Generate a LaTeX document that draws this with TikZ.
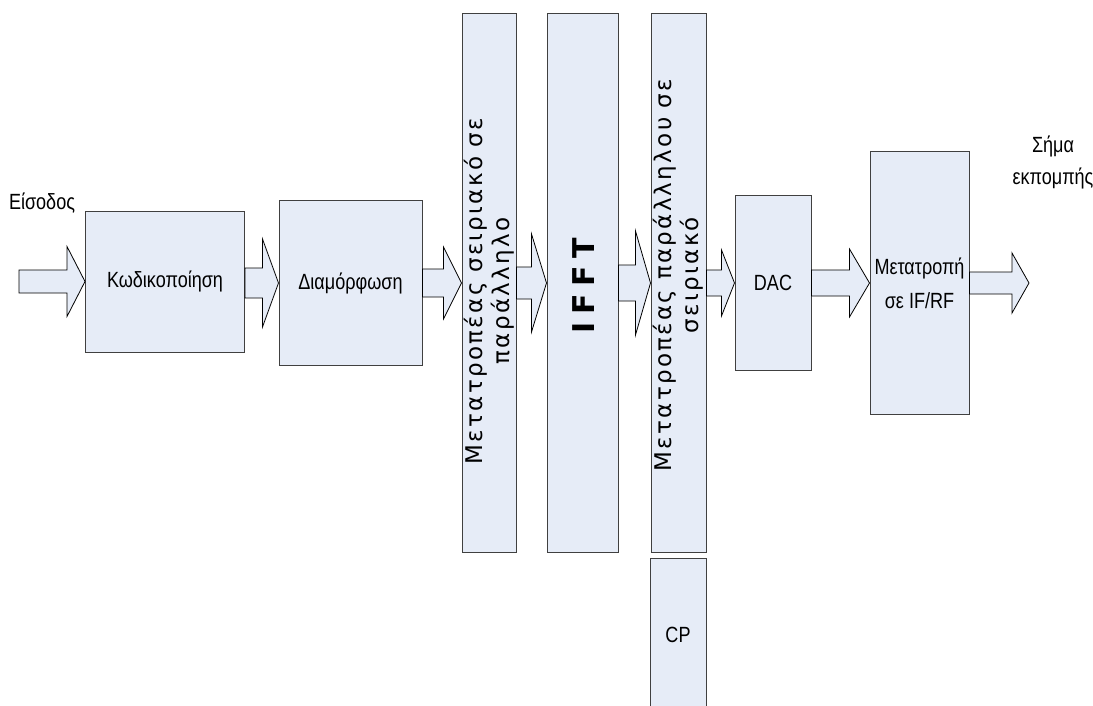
\documentclass[tikz,border=0pt]{standalone}
\usepackage{fontspec}
\usepackage{graphicx}
\setmainfont{Liberation Sans}[FakeStretch=0.82]
\newfontfamily\vfont{DejaVu Sans}[LetterSpace=10]
\newfontfamily\ifftfont{DejaVu Sans}[LetterSpace=25]
\usetikzlibrary{calc}
\definecolor{boxfill}{RGB}{230,236,247}
\definecolor{boxline}{RGB}{64,64,64}
\tikzset{
  block/.style={draw=boxline,fill=boxfill,line width=1pt,inner sep=0pt,
    font=\fontsize{22}{34}\selectfont,align=center},
  vlabel/.style={rotate=90,align=center,inner sep=0pt,
    font=\vfont\fontsize{23}{27}\selectfont},
  plain/.style={inner sep=0pt,align=center,font=\fontsize{22}{32}\selectfont},
  fatarrow/.style={draw=black,fill=boxfill,line width=0.8pt,line join=miter}
}
%% block arrow: from, tip, shaft half, head half, head length
\newcommand{\fatarrow}[5]{%
  \draw[fatarrow] let \p1=(#1), \p2=(#2) in
    (\x1,\y2+#3) -- (\x2-#5,\y2+#3) -- (\x2-#5,\y2+#4) -- (\x2,\y2)
    -- (\x2-#5,\y2-#4) -- (\x2-#5,\y2-#3) -- (\x1,\y2-#3) -- cycle;}
\begin{document}
\begin{tikzpicture}[x=1pt,y=-1pt]
    \useasboundingbox (0,0) rectangle (1093,706);
    %% Blocks
    \node[block,minimum width=159,minimum height=141] (kod) at (165,281.5) {Κωδικοποίηση};
    \node[block,minimum width=143,minimum height=164] (dia) at (350.5,283) {Διαμόρφωση};
    \node[block,minimum width=54,minimum height=538] (sp) at (489,283) {};
    \node[block,minimum width=71,minimum height=538] (ifft) at (582.5,283) {};
    \node[block,minimum width=55,minimum height=538] (ps) at (678.5,283) {};
    \node[block,minimum width=56,minimum height=154] (cp) at (678,635) {CP};
    \node[block,minimum width=76,minimum height=174] (dac) at (773,283) {DAC};
    \node[block,minimum width=99,minimum height=262] (rf) at (919.5,283) {Μετατροπή\\σε IF/RF};
    %% Vertical texts
    \node[vlabel] (sp-t) at ([yshift=-8]sp.center) {Μετατροπέας σειριακό σε\\παράλληλο};
    \node[vlabel,font=\ifftfont\bfseries\fontsize{30}{34}\selectfont] (ifft-t) at ([xshift=1,yshift=-3]ifft.center) {IFFT};
    \node[vlabel] (ps-t) at ([yshift=8]ps.center) {Μετατροπέας παράλληλου σε\\σειριακό};
    %% Input and output
    \node[plain] (in-t) at (42,203) {Είσοδος};
    \node[plain] (out-t) at (1053,162) {Σήμα\\εκπομπής};
    \coordinate (in) at (19,282);
    \coordinate (out) at (1029,283);
    %% Arrows
    \fatarrow{in}{kod.west}{11.5}{35}{18}
    \fatarrow{kod.east}{dia.west}{15}{44}{16}
    \fatarrow{dia.east}{sp.west}{14}{36}{18}
    \fatarrow{sp.east}{ifft.west}{16}{49}{15}
    \fatarrow{ifft.east}{ps.west}{18}{52}{15}
    \fatarrow{ps.east}{dac.west}{13}{33}{13}
    \fatarrow{dac.east}{rf.west}{13}{34}{20}
    \fatarrow{rf.east}{out}{11}{30}{17}
\end{tikzpicture}
\end{document}
